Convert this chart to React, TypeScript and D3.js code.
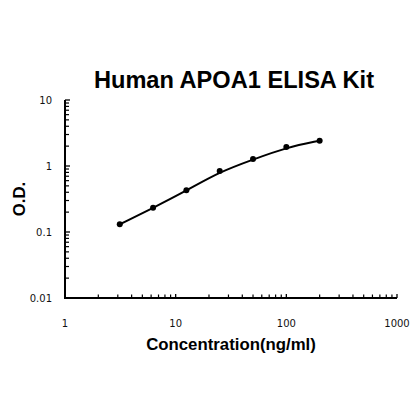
import React from "react";
import * as d3 from "d3";

const title = "Human APOA1 ELISA Kit";
const xTitle = "Concentration(ng/ml)";
const yTitle = "O.D.";
const concentrations = [3.125, 6.25, 12.5, 25, 50, 100, 200];
const odValues = [0.131, 0.233, 0.428, 0.84, 1.28, 1.94, 2.42];
const xTickLabels = [1, 10, 100, 1000];
const yTickLabels = [0.01, 0.1, 1, 10];

const W = 420;
const H = 420;
const left = 65;
const right = 397;
const top = 100;
const bottom = 298;

export default function App() {
  const x = d3.scaleLog().domain([1, 1000]).range([left, right]);
  const y = d3.scaleLog().domain([0.01, 10]).range([bottom, top]);

  const minorX: number[] = [];
  for (let d = 1; d < 1000; d *= 10) for (let k = 2; k <= 9; k++) minorX.push(d * k);
  const minorY: number[] = [];
  for (let d = 0.01; d < 9; d *= 10) for (let k = 2; k <= 9; k++) minorY.push(d * k);

  const pts = concentrations.map((c, i) => [x(c), y(odValues[i])] as [number, number]);
  const line = d3.line<[number, number]>().curve(d3.curveBundle.beta(0.93))(pts) || "";

  const tickFont = "'DejaVu Sans', sans-serif";
  const boldFont = "'Liberation Sans', Arial, sans-serif";

  return (
    <svg width={W} height={H} style={{ position: "absolute", left: 0, top: 0, background: "#fff" }}>
      <rect width={W} height={H} fill="#fff" />
      <text x={234} y={88} textAnchor="middle" fontFamily={boldFont} fontWeight="bold" fontSize={23.6} fill="#000">
        {title}
      </text>
      <line x1={left} x2={left} y1={top} y2={bottom} stroke="#000" strokeWidth={2} />
      <line x1={left - 1} x2={right} y1={bottom} y2={bottom} stroke="#000" strokeWidth={2} />
      {xTickLabels.map((v) => (
        <g key={"xt" + v}>
          <line x1={x(v)} x2={x(v)} y1={bottom} y2={bottom - 4} stroke="#000" strokeWidth={1.3} />
          <text x={x(v)} y={327} textAnchor="middle" fontFamily={tickFont} fontSize={10} fill="#111">
            {v}
          </text>
        </g>
      ))}
      {minorX.map((v) => (
        <line key={"xm" + v} x1={x(v)} x2={x(v)} y1={bottom} y2={bottom - 3.5} stroke="#000" strokeWidth={1.2} />
      ))}
      {yTickLabels.map((v) => (
        <g key={"yt" + v}>
          <line x1={left} x2={left + 5} y1={y(v)} y2={y(v)} stroke="#000" strokeWidth={1.3} />
          <text x={52} y={y(v) + 4} textAnchor="end" fontFamily={tickFont} fontSize={10} fill="#111">
            {v}
          </text>
        </g>
      ))}
      {minorY.map((v) => (
        <line key={"ym" + v} x1={left} x2={left + 4} y1={y(v)} y2={y(v)} stroke="#000" strokeWidth={1.2} />
      ))}
      <path d={line} fill="none" stroke="#000" strokeWidth={2} />
      {pts.map((p, i) => (
        <circle key={i} cx={p[0]} cy={p[1]} r={3} fill="#000" />
      ))}
      <text x={231} y={350} textAnchor="middle" fontFamily={boldFont} fontWeight="bold" fontSize={16.8} fill="#000">
        {xTitle}
      </text>
      <text
        transform={`translate(25,${(top + bottom) / 2}) rotate(-90)`}
        textAnchor="middle"
        fontFamily={boldFont}
        fontWeight="bold"
        fontSize={16.8}
        fill="#000"
      >
        {yTitle}
      </text>
    </svg>
  );
}
